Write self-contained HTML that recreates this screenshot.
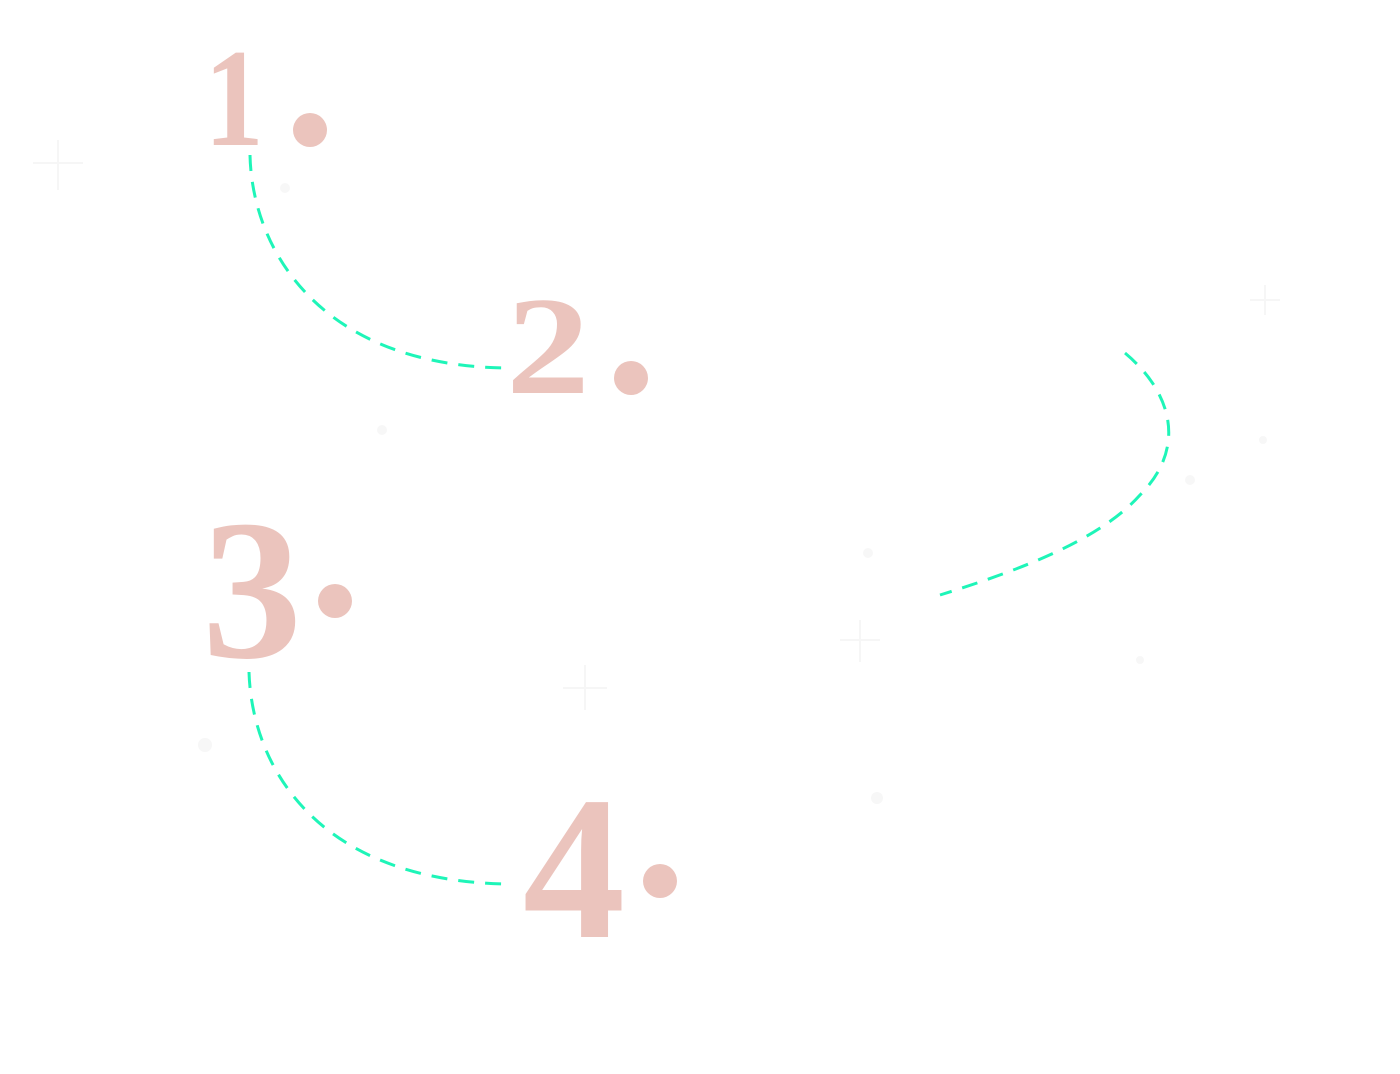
<!DOCTYPE html>
<html>
<head>
<meta charset="utf-8">
<style>
html,body{margin:0;padding:0;background:#fff;}
svg{display:block;}
</style>
</head>
<body>
<svg width="1400" height="1074" viewBox="0 0 1400 1074" xmlns="http://www.w3.org/2000/svg">
  <rect width="1400" height="1074" fill="#fff"/>
  <g fill="none" stroke="#f6f6f6" stroke-width="2">
    <path d="M58 140 V190 M33 163 H83"/>
    <path d="M860 620 V662 M840 640 H880"/>
    <path d="M585 665 V710 M563 688 H607"/>
    <path d="M1265 285 V315 M1250 300 H1280"/>
  </g>
  <g fill="#f7f7f7">
    <circle cx="285" cy="188" r="5"/><circle cx="382" cy="430" r="5"/>
    <circle cx="205" cy="745" r="7"/><circle cx="877" cy="798" r="6"/>
    <circle cx="1190" cy="480" r="5"/><circle cx="868" cy="553" r="5"/>
    <circle cx="1140" cy="660" r="4"/><circle cx="1263" cy="440" r="4"/>
  </g>
  <g fill="none" stroke="#1ef5b8" stroke-width="3" stroke-dasharray="16 11">
    <path d="M250 155 C252 250 320 365 505 368"/>
    <path d="M1125 353 C1175 395 1185 450 1140 495 C1100 540 1020 570 940 595"/>
    <path d="M249 672 C252 770 320 880 505 884"/>
  </g>
  <g fill="#ebc4bd" font-family="'Liberation Serif', serif" font-weight="bold" text-anchor="middle">
    <text x="234" y="145" font-size="140" transform="translate(234 0) scale(0.85 1) translate(-234 0)">1</text>
    <text x="548" y="393" font-size="140" transform="translate(548 0) scale(1.2 1) translate(-548 0)">2</text>
    <text x="252" y="657" font-size="200">3</text>
    <text x="574" y="937" font-size="205">4</text>
  </g>
  <g fill="#ebc4bd">
    <circle cx="310" cy="130" r="17"/>
    <circle cx="631" cy="378" r="17"/>
    <circle cx="335" cy="601" r="17"/>
    <circle cx="660" cy="881" r="17"/>
  </g>
</svg>
</body>
</html>
